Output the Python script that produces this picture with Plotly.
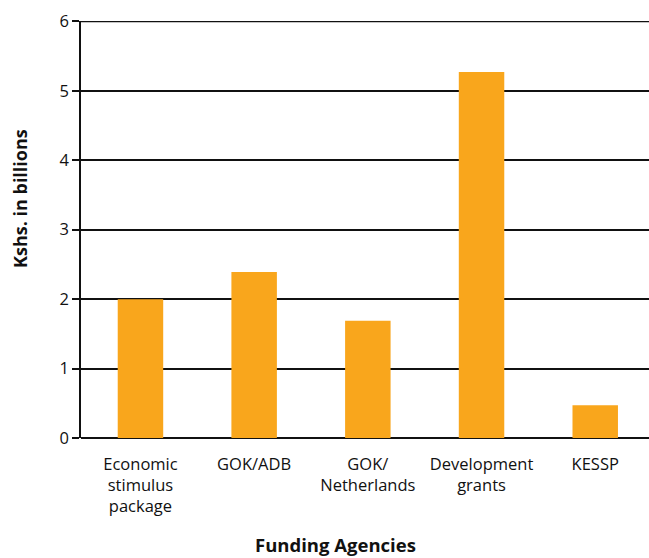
import plotly.graph_objects as go

categories = ["Economic<br>stimulus<br>package", "GOK/ADB", "GOK/<br>Netherlands", "Development<br>grants", "KESSP"]
values = [2.0, 2.39, 1.69, 5.27, 0.47]
y_ticks = [0, 1, 2, 3, 4, 5, 6]

fig = go.Figure(go.Bar(x=categories, y=values, marker=dict(color="#F9A61C", line=dict(width=0)), width=0.4))

font_family = "'Open Sans', 'Noto Sans', sans-serif"
L, T, B = 81, 21, 120
W, H = 649, 558
pw, ph = W - L, H - T - B

fig.update_layout(
    width=W, height=H,
    margin=dict(l=L, r=0, t=T, b=B, autoexpand=False),
    plot_bgcolor="white", paper_bgcolor="white",
    font=dict(family=font_family, color="#111", size=16),
    showlegend=False,
    xaxis=dict(
        type="category", automargin=False,
        range=[-0.523, 4.473],
        showgrid=False, showline=False,
        ticks="", zeroline=False, ticklabelstandoff=14,
        tickfont=dict(size=16.5, family=font_family, color="#111"),
    ),
    yaxis=dict(
        range=[0, 6.006], tickvals=y_ticks, automargin=False,
        showgrid=True, gridcolor="#111", gridwidth=1.5,
        showline=True, linecolor="#111", linewidth=1.5,
        ticks="outside", ticklen=7, tickcolor="#111", tickwidth=1.5,
        zeroline=True, zerolinecolor="#111", zerolinewidth=1.5,
        ticksuffix="\u00a0",
        tickfont=dict(size=16.5, family=font_family, color="#111"),
    ),
    shapes=[
        dict(type="line", xref="paper", yref="y", x0=0, x1=1, y0=y_ticks[-1], y1=y_ticks[-1],
             line=dict(color="#111", width=1.5), layer="below"),
    ],
    annotations=[
        dict(text="<b>Funding Agencies</b>", xref="paper", yref="paper",
             x=(335 - L) / pw, y=-(544 - (T + ph)) / ph, showarrow=False,
             xanchor="center", yanchor="middle",
             font=dict(size=18.5, family=font_family, color="#111")),
        dict(text="<b>Kshs. in billions</b>", xref="paper", yref="paper",
             x=-(L - 20) / pw, y=1 - (199 - T) / ph, showarrow=False, textangle=-90,
             xanchor="center", yanchor="middle",
             font=dict(size=18, family=font_family, color="#111")),
    ],
)
fig.write_html("out.html", config={"displayModeBar": False},
               post_script="document.body.style.margin='0';")
